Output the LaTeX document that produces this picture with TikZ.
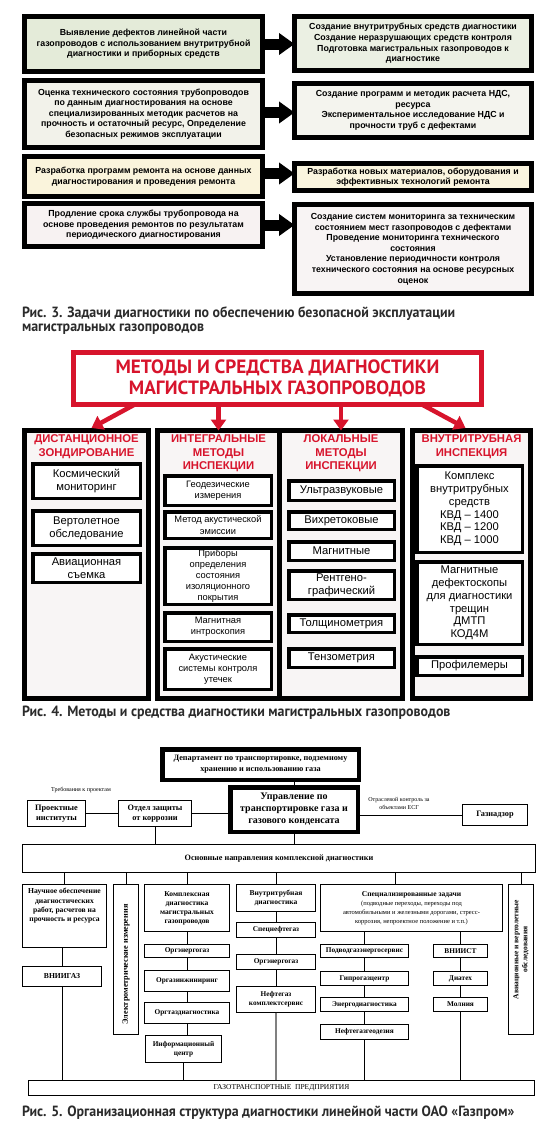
\documentclass[tikz,border=0pt]{standalone}
\usepackage{fontspec}
\setmainfont{Liberation Sans}
\newfontfamily\tms{Liberation Serif}
\newfontfamily\capfont[FakeStretch=0.94]{PT Sans}
\newfontfamily\titfont{PT Sans}
\usetikzlibrary{arrows.meta,calc}
\definecolor{g1}{HTML}{E4EBD9}
\definecolor{g2}{HTML}{F2F2EA}
\definecolor{g3}{HTML}{FAF4DC}
\definecolor{g4}{HTML}{F7F2F2}
\definecolor{rg1}{HTML}{EBF0E3}
\definecolor{rg2}{HTML}{F4F4EE}
\definecolor{rg3}{HTML}{FAF5DF}
\definecolor{rg4}{HTML}{F8F4F4}
\definecolor{myred}{HTML}{D7142C}
\definecolor{colfill}{HTML}{F8F5F5}
\definecolor{captext}{HTML}{2B2B2B}
\def\bw{5}
\newcommand\bx[7]{\node[#6, minimum width={#4-#2-\bw}, minimum height={#5-#3-\bw}] (#1) at ({(#2+#4)/2},{(#3+#5)/2}) {#7};}
\begin{document}
\begin{tikzpicture}[x=1pt,y=-1pt,
  every node/.style={inner sep=0, outer sep=0},
  f3/.style={draw, line width=5pt, align=center, font=\fontsize{8.8}{10.6}\selectfont\bfseries},
  barrow/.style={line width=11pt, -{Triangle[length=15.5pt,width=21pt]}},
  capnode/.style={anchor=base west, text=captext, font=\capfont\bfseries\fontsize{14.8}{16}\selectfont},
  tbox/.style={draw=myred, line width=5pt, fill=white, align=center, text=myred, font=\titfont\bfseries\fontsize{19.2}{20.7}\selectfont},
  rarrow/.style={draw=myred, line width=4.5pt, -{Triangle[length=11pt,width=15pt]}},
  col/.style={draw, line width=5pt, fill=colfill},
  hdr/.style={anchor=north, align=center, text=myred, font=\fontsize{11.3}{13.5}\selectfont\bfseries},
  ib/.style={draw, line width=3.5pt, fill=white, align=center, font=\fontsize{11.2}{13}\selectfont},
  ibs/.style={ib, font=\fontsize{9.3}{11.2}\selectfont},
  ibk/.style={ib, font=\fontsize{11.2}{12.8}\selectfont},
  f5/.style={draw, line width=0.8pt, fill=white, align=center, font=\tms\bfseries\fontsize{7.3}{8.8}\selectfont},
  f5t/.style={f5, line width=4.5pt},
  ln/.style={line width=0.8pt},
]
\useasboundingbox (0,0) rectangle (542,1122);
% ---------------- Fig. 3 ----------------
\def\bw{5}
\bx{L1}{22}{14}{265}{74}{f3,fill=g1}{Выявление дефектов линейной части\\газопроводов с использованием внутритрубной\\диагностики и приборных средств}
\bx{L2}{22}{78}{265}{150}{f3,fill=g2}{Оценка технического состояния трубопроводов\\по данным диагностирования на основе\\специализированных методик расчетов на\\прочность и остаточный ресурс, Определение\\безопасных режимов эксплуатации}
\bx{L3}{22}{154}{265}{199}{f3,fill=g3}{Разработка программ ремонта на основе данных\\диагностирования и проведения ремонта}
\bx{L4}{22}{201}{265}{249}{f3,fill=g4}{Продление срока службы трубопровода на\\основе проведения ремонтов по результатам\\периодического диагностирования}
\bx{R1}{292}{14}{534}{73}{f3,fill=rg1}{Создание внутритрубных средств диагностики\\Создание неразрушающих средств контроля\\Подготовка магистральных газопроводов к\\диагностике}
\bx{R2}{292}{81}{534}{140}{f3,fill=rg2}{Создание программ и методик расчета НДС,\\ресурса\\Экспериментальное исследование НДС и\\прочности труб с дефектами}
\bx{R3}{292}{161}{534}{193}{f3,fill=rg3}{Разработка новых материалов, оборудования и\\эффективных технологий ремонта}
\bx{R4}{292}{202}{534}{296}{f3,fill=rg4}{Создание систем мониторинга за техническим\\состоянием мест газопроводов с дефектами\\Проведение мониторинга технического\\состояния\\Установление периодичности контроля\\технического состояния на основе ресурсных\\оценок}
\draw[barrow] (L1.east) -- (L1.east -| R1.west);
\draw[barrow] ($(L2.east)+(0,-1.5)$) -- ($(L2.east -| R2.west)+(0,-1.5)$);
\draw[barrow] ($(L3.east)+(0,-3)$) -- ($(L3.east -| R3.west)+(0,-3)$);
\draw[barrow] (L4.east) -- (L4.east -| R4.west);
\node[capnode] (cap3a) at (22,317) {Рис. 3. Задачи диагностики по обеспечению безопасной эксплуатации};
\node[capnode] (cap3b) at (22,331) {магистральных газопроводов};
% ---------------- Fig. 4 ----------------
\bx{T}{71}{350}{484}{407}{tbox}{МЕТОДЫ И СРЕДСТВА ДИАГНОСТИКИ\\МАГИСТРАЛЬНЫХ ГАЗОПРОВОДОВ}
\bx{C1}{22}{428}{151}{701}{col}{}
\bx{C2}{155}{428}{282}{701}{col}{}
\bx{C3}{277}{428}{405}{701}{col}{}
\bx{C4}{410}{428}{533}{701}{col}{}
\draw[rarrow] ($(T.south west)!0.15!(T.south east)$) -- ($(C1.north)+(5,-2.5)$);
\draw[rarrow] (C2.north |- T.south) -- (C2.north);
\draw[rarrow] (C3.north |- T.south) -- (C3.north);
\draw[rarrow] ($(T.south west)!0.854!(T.south east)$) -- ($(C4.north)+(-6,-2.5)$);
\node[hdr] (H1) at ($(C1.north)+(0,4.5)$) {ДИСТАНЦИОННОЕ\\ЗОНДИРОВАНИЕ};
\node[hdr] (H2) at ($(C2.north)+(0,4.5)$) {ИНТЕГРАЛЬНЫЕ\\МЕТОДЫ\\ИНСПЕКЦИИ};
\node[hdr] (H3) at ($(C3.north)+(0,4.5)$) {ЛОКАЛЬНЫЕ\\МЕТОДЫ\\ИНСПЕКЦИИ};
\node[hdr] (H4) at ($(C4.north)+(0,4.5)$) {ВНУТРИТРУБНАЯ\\ИНСПЕКЦИЯ};
\def\bw{3.5}
\bx{cosm}{31}{462}{142}{500}{ib}{Космический\\мониторинг}
\bx{vert}{31}{509}{142}{547}{ib}{Вертолетное\\обследование}
\bx{avia}{31}{552}{142}{584}{ib}{Авиационная\\съемка}
\bx{geo}{163}{474}{273}{507}{ibs}{Геодезические\\измерения}
\bx{aem}{163}{510}{273}{540}{ibs}{Метод акустической\\эмиссии}
\bx{prib}{163}{546}{273}{606}{ibs}{Приборы\\определения\\состояния\\изоляционного\\покрытия}
\bx{magi}{163}{611}{273}{643}{ibs}{Магнитная\\интроскопия}
\bx{akus}{163}{647}{273}{691}{ibs}{Акустические\\системы контроля\\утечек}
\bx{uz}{287}{479}{396}{502}{ib}{Ультразвуковые}
\bx{vih}{287}{510}{396}{531}{ib}{Вихретоковые}
\bx{mag}{287}{540}{396}{562}{ib}{Магнитные}
\bx{rg}{287}{569}{396}{601}{ib}{Рентгено-\\графический}
\bx{tol}{287}{613}{396}{634}{ib}{Толщинометрия}
\bx{ten}{287}{647}{396}{669}{ib}{Тензометрия}
\bx{kvd}{415}{464}{524}{554}{ibk}{Комплекс\\внутритрубных\\средств\\КВД – 1400\\КВД – 1200\\КВД – 1000}
\bx{mdef}{415}{560}{524}{646}{ibk}{Магнитные\\дефектоскопы\\для диагностики\\трещин\\ДМТП\\КОД4М}
\bx{prof}{415}{655}{524}{677}{ib}{Профилемеры}
\node[capnode] (cap4) at (22,716) {Рис. 4. Методы и средства диагностики магистральных газопроводов};
% ---------------- Fig. 5 ----------------
\def\bw{4.5}
\bx{Dept}{160}{747}{361}{782}{f5t, font=\tms\bfseries\fontsize{8.2}{11}\selectfont}{Департамент по транспортировке, подземному\\хранению и использованию газа}
\bx{Upr}{228}{785}{360}{834}{f5t, font=\tms\bfseries\fontsize{10}{12}\selectfont}{Управление по\\транспортировке газа и\\газового конденсата}
\def\bw{0.8}
\bx{Proj}{27}{800}{86}{827}{f5, font=\tms\bfseries\fontsize{8.3}{10.5}\selectfont}{Проектные\\институты}
\bx{Otd}{118}{800}{192}{827}{f5, font=\tms\bfseries\fontsize{8.3}{10.5}\selectfont}{Отдел защиты\\от коррозии}
\bx{Gaz}{462}{804}{528}{826}{f5, font=\tms\bfseries\fontsize{8.3}{10.5}\selectfont}{Газнадзор}
\node[font=\tms\fontsize{6}{7}\selectfont] (treb) at (81,790) {Требования к проектам};
\node[font=\tms\fontsize{6}{8}\selectfont, align=center] (otr) at (399,803) {Отраслевой контроль за\\объектами ЕСГ};
\bx{Osn}{22}{844}{536}{873}{f5, font=\tms\bfseries\fontsize{8.2}{10}\selectfont}{Основные направления комплексной диагностики}
\bx{Nau}{22}{884}{107}{948}{f5}{}
\node[anchor=north, align=center, font=\tms\bfseries\fontsize{7.6}{9.3}\selectfont] (NauT) at ($(Nau.north)+(0,4)$) {Научное обеспечение\\диагностических\\работ, расчетов на\\прочность и ресурса};
\bx{VNII}{22}{966}{102}{987}{f5, font=\tms\bfseries\fontsize{7.6}{9}\selectfont}{ВНИИГАЗ}
\bx{Elec}{113}{884}{139}{1035}{f5}{}
\node[rotate=90, font=\tms\bfseries\fontsize{8.2}{9}\selectfont] (ElecT) at ($(Elec.center)+(0,5)$) {Электрометрические измерения};
\bx{Kompl}{144}{884}{230}{932}{f5, font=\tms\bfseries\fontsize{7.5}{9}\selectfont}{Комплексная\\диагностика\\магистральных\\газопроводов}
\bx{Org1}{144}{944}{230}{958}{f5}{Оргэнергогаз}
\bx{Orgaz}{144}{970}{230}{992}{f5}{Оргазинжиниринг}
\bx{Orgtaz}{144}{1002}{230}{1024}{f5}{Оргтаздиагностика}
\bx{Info}{145}{1035}{222}{1063}{f5}{Информационный\\центр}
\bx{Vnutr}{236}{884}{316}{912}{f5, font=\tms\bfseries\fontsize{7.5}{9.5}\selectfont}{Внутритрубная\\диагностика}
\bx{Spn}{236}{922}{316}{938}{f5}{Спецнефтегаз}
\bx{Org2}{236}{954}{316}{970}{f5}{Оргэнергогаз}
\bx{Neft}{236}{986}{316}{1013}{f5}{Нефтегаз\\комплектсервис}
\bx{Spec}{320}{884}{503}{932}{f5, font=\tms\fontsize{6.5}{9}\selectfont}{{\bfseries\fontsize{7.5}{9}\selectfont Специализированные задачи}\\(подводные переходы, переходы под\\автомобильными и железными дорогами, стресс-\\коррозия, непроектное положение и т.п.)}
\bx{Podv}{320}{944}{409}{958}{f5}{Подводгазэнергосервис}
\bx{Gipro}{320}{971}{409}{986}{f5}{Гипрогазцентр}
\bx{Energ}{320}{997}{409}{1012}{f5}{Энергодиагностика}
\bx{Ngeo}{320}{1024}{409}{1040}{f5}{Нефтегазгеодезия}
\bx{Vniist}{433}{944}{488}{958}{f5}{ВНИИСТ}
\bx{Diat}{433}{971}{488}{986}{f5}{Диатех}
\bx{Moln}{433}{997}{488}{1012}{f5}{Молния}
\bx{Avia}{508}{884}{534}{1035}{f5}{}
\node[rotate=90, align=center, font=\tms\bfseries\fontsize{7.5}{9}\selectfont] (AviaT) at ($(Avia.center)+(0,-10)$) {Авиационные и вертолетные\\обследования};
\bx{GTP}{28}{1080}{535}{1096}{f5, font=\tms\fontsize{7.5}{9}\selectfont}{ГАЗОТРАНСПОРТНЫЕ\ \ ПРЕДПРИЯТИЯ}
% connectors
\draw[ln] (Upr.north) -- (Upr.north |- Dept.south);
\draw[ln] (Proj.east) -- (Otd.west);
\draw[ln] (Otd.east) -- (Otd.east -| Upr.west);
\draw[ln] (Gaz.west -| Upr.east) -- (Gaz.west);
\draw[ln] (Otd.south) -- (Otd.south |- Osn.north);
\draw[ln] (Upr.south) -- (Upr.south |- Osn.north);
\draw[ln] (Nau.north |- Osn.south) -- (Nau.north);
\draw[ln] (Elec.north |- Osn.south) -- (Elec.north);
\draw[ln] (Kompl.north |- Osn.south) -- (Kompl.north);
\draw[ln] (Vnutr.north |- Osn.south) -- (Vnutr.north);
\coordinate (specTop) at ($(Spec.north west)!0.41!(Spec.north east)$);
\draw[ln] (specTop |- Osn.south) -- (specTop);
\draw[ln] (Avia.north |- Osn.south) -- (Avia.north);
\draw[ln] (VNII.north |- Nau.south) -- (VNII.north);
\draw[ln] (VNII.south) -- (VNII.south |- GTP.north);
\draw[ln] (Kompl.south) -- (Org1.north);
\draw[ln] (Org1.south) -- (Orgaz.north);
\draw[ln] (Orgaz.south) -- (Orgtaz.north);
\draw[ln] (Orgtaz.south) -- (Orgtaz.south |- Info.north);
\draw[ln] (Info.south) -- (Info.south |- GTP.north);
\draw[ln] (Vnutr.south) -- (Spn.north);
\draw[ln] (Spn.south) -- (Org2.north);
\draw[ln] (Org2.south) -- (Neft.north);
\draw[line width=1.8pt, draw=gray] (Neft.south) -- (Neft.south |- GTP.north);
\draw[ln] (Podv.north |- Spec.south) -- (Podv.north);
\draw[ln] (Podv.south) -- (Gipro.north);
\draw[ln] (Gipro.south) -- (Energ.north);
\draw[ln] (Energ.south) -- (Ngeo.north);
\draw[ln] (Ngeo.south) -- (Ngeo.south |- GTP.north);
\draw[ln] (Vniist.north |- Spec.south) -- (Vniist.north);
\draw[ln] (Vniist.south) -- (Diat.north);
\draw[ln] (Diat.south) -- (Moln.north);
\draw[ln] (Moln.south) -- (Moln.south |- GTP.north);
\node[capnode] (cap5) at (22,1116) {Рис. 5. Организационная структура диагностики линейной части ОАО «Газпром»};
\end{tikzpicture}
\end{document}
